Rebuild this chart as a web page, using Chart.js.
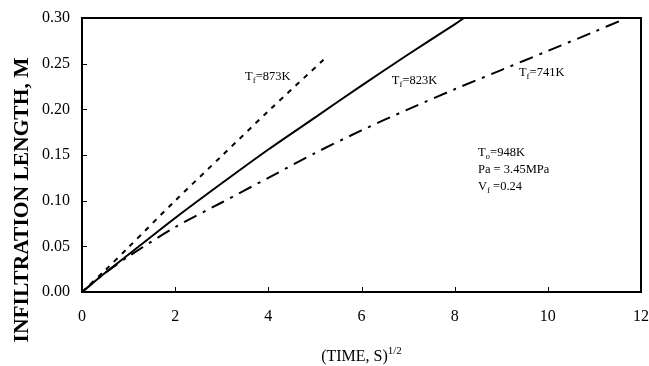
<!DOCTYPE html>
<html>
<head>
<meta charset="utf-8">
<script src="https://cdn.jsdelivr.net/npm/chart.js@4/dist/chart.umd.min.js"></script>
<style>
  html, body { margin: 0; padding: 0; overflow: hidden; background: #fff; }
  #wrap { width: 649px; height: 366px; }
</style>
</head>
<body>
<div id="wrap"><canvas id="infChart"></canvas></div>
<script>
// values
const time873 = [0, 0.5, 1, 2, 3, 4, 5.2];
const len873 = [0, 0.024, 0.049, 0.100, 0.149, 0.198, 0.255];

const time823 = [0, 0.5, 1, 2, 3, 4, 5, 6, 7, 8, 8.2];
const len823 = [0, 0.021, 0.041, 0.081, 0.119, 0.156, 0.191, 0.226, 0.260, 0.293, 0.300];

const time741 = [0, 0.5, 1, 2, 3, 4, 5, 6, 7, 8, 9, 10, 11, 11.6];
const len741 = [0, 0.021, 0.039, 0.071, 0.098, 0.125, 0.152, 0.177, 0.200, 0.222, 0.243, 0.264, 0.285, 0.298];

const xTicks = [0, 2, 4, 6, 8, 10, 12];
const yTicks = [0, 0.05, 0.10, 0.15, 0.20, 0.25, 0.30];

// curve labels: [main, subscript, rest, x, y]
const curveLabels = [
    ['T', 'f', '=873K', 3.5, 0.232],
    ['T', 'f', '=823K', 6.65, 0.228],
    ['T', 'f', '=741K', 9.38, 0.237]
];
const conditions = [
    ['T', 'o', '=948K'],
    ['Pa = 3.45MPa', '', ''],
    ['V', 'f', ' =0.24']
];

function pts(xs, ys) {
    return xs.map((x, i) => ({ x: x, y: ys[i] }));
}

const serif = '"Liberation Serif", "DejaVu Serif", serif';

function drawSub(ctx, x, y, main, sub, rest, size) {
    ctx.font = size + 'px ' + serif;
    ctx.fillText(main, x, y);
    x += ctx.measureText(main).width;
    if (sub) {
        ctx.font = Math.round(size * 0.7) + 'px ' + serif;
        ctx.fillText(sub, x, y + 3);
        x += ctx.measureText(sub).width;
    }
    ctx.font = size + 'px ' + serif;
    ctx.fillText(rest, x, y);
}

const decorations = {
    id: 'decorations',
    afterDatasetsDraw(chart) {
        const ctx = chart.ctx;
        const area = chart.chartArea;
        const xs = chart.scales.x;
        const ys = chart.scales.y;
        ctx.save();
        ctx.strokeStyle = '#000';
        ctx.fillStyle = '#000';
        // frame
        ctx.lineWidth = 2;
        ctx.strokeRect(area.left, area.top, area.right - area.left, area.bottom - area.top);
        // inward ticks
        ctx.lineWidth = 1;
        ctx.beginPath();
        xTicks.forEach(v => {
            const px = Math.round(xs.getPixelForValue(v)) + 0.5;
            ctx.moveTo(px, area.bottom);
            ctx.lineTo(px, area.bottom - 5);
        });
        yTicks.forEach(v => {
            const py = Math.round(ys.getPixelForValue(v)) + 0.5;
            ctx.moveTo(area.left, py);
            ctx.lineTo(area.left + 5, py);
        });
        ctx.stroke();

        // curve labels
        ctx.textBaseline = 'alphabetic';
        ctx.textAlign = 'left';
        curveLabels.forEach(l => {
            drawSub(ctx, xs.getPixelForValue(l[3]), ys.getPixelForValue(l[4]), l[0], l[1], l[2], 12.5);
        });
        const cx = xs.getPixelForValue(8.5);
        let cy = ys.getPixelForValue(0.149);
        conditions.forEach(l => {
            drawSub(ctx, cx, cy, l[0], l[1], l[2], 12.5);
            cy += 17;
        });

        // x axis title with superscript
        const main = '(TIME, S)';
        ctx.font = '16px ' + serif;
        const w1 = ctx.measureText(main).width;
        ctx.font = '11px ' + serif;
        const w2 = ctx.measureText('1/2').width;
        const tx = (area.left + area.right) / 2 - (w1 + w2) / 2;
        ctx.font = '16px ' + serif;
        ctx.fillText(main, tx, 361);
        ctx.font = '11px ' + serif;
        ctx.fillText('1/2', tx + w1, 354);

        // y axis title
        ctx.translate(28, 200);
        ctx.rotate(-Math.PI / 2);
        ctx.textAlign = 'center';
        ctx.font = 'bold 21.5px ' + serif;
        ctx.fillText('INFILTRATION LENGTH, M', 0, 0);
        ctx.restore();
    }
};

new Chart(document.getElementById('infChart'), {
    type: 'scatter',
    data: {
        datasets: [{
            label: 'Tf=873K',
            data: pts(time873, len873),
            showLine: true,
            borderColor: '#000',
            borderWidth: 2,
            borderDash: [5, 6],
            pointRadius: 0,
            tension: 0.3
        }, {
            label: 'Tf=823K',
            data: pts(time823, len823),
            showLine: true,
            borderColor: '#000',
            borderWidth: 2,
            pointRadius: 0,
            tension: 0.3
        }, {
            label: 'Tf=741K',
            data: pts(time741, len741),
            showLine: true,
            borderColor: '#000',
            borderWidth: 2,
            borderDash: [14, 7, 3, 7],
            pointRadius: 0,
            tension: 0.3
        }]
    },
    options: {
        responsive: true,
        maintainAspectRatio: false,
        animation: false,
        layout: { padding: { top: 18, right: 8, left: 0, bottom: 0 } },
        plugins: {
            legend: { display: false },
            tooltip: { enabled: false }
        },
        scales: {
            x: {
                type: 'linear',
                min: 0,
                max: 12,
                afterFit: s => { s.height = 74; s.paddingLeft = 0; s.paddingRight = 0; },
                afterBuildTicks: s => { s.ticks = xTicks.map(v => ({ value: v })); },
                grid: { display: false, drawTicks: false },
                border: { display: false },
                ticks: {
                    color: '#000',
                    padding: 15,
                    font: { family: serif, size: 16 }
                }
            },
            y: {
                type: 'linear',
                min: 0,
                max: 0.3,
                afterFit: s => { s.width = 82; s.paddingTop = 0; s.paddingBottom = 0; },
                afterBuildTicks: s => { s.ticks = yTicks.map(v => ({ value: v })); },
                grid: { display: false, drawTicks: false },
                border: { display: false },
                ticks: {
                    color: '#000',
                    padding: 12,
                    font: { family: serif, size: 16 },
                    callback: v => Number(v).toFixed(2)
                }
            }
        }
    },
    plugins: [decorations]
});
</script>
</body>
</html>
